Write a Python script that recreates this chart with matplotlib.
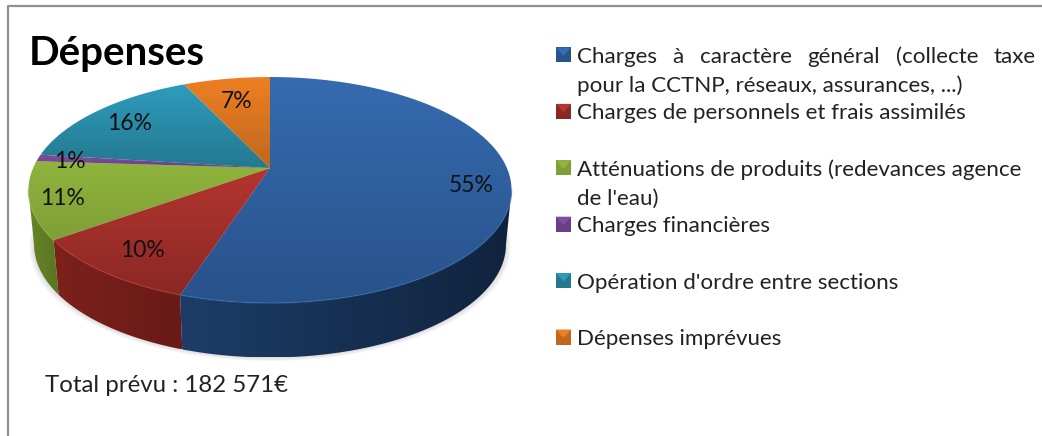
import numpy as np
import matplotlib
matplotlib.use("Agg")
import matplotlib.pyplot as plt
from matplotlib.colors import LinearSegmentedColormap
from matplotlib.patches import Polygon

plt.rcParams['font.family'] = ['Lato', 'DejaVu Sans']

title = "Dépenses"
note = "Total prévu : 182 571€"
values = [55, 10, 11, 1, 16, 7]
pct_labels = ["55%", "10%", "11%", "1%", "16%", "7%"]
legend_lines = [
    ["Charges à caractère général (collecte taxe", "pour la CCTNP, réseaux, assurances, ...)"],
    ["Charges de personnels et frais assimilés"],
    ["Atténuations de produits (redevances agence", "de l'eau)"],
    ["Charges financières"],
    ["Opération d'ordre entre sections"],
    ["Dépenses imprévues"],
]
top_light = ["#356bb0", "#b5352f", "#8fb53c", "#7f4e9f", "#2e9cbd", "#ee7f22"]
top_dark = ["#28528a", "#8a2825", "#7f9e38", "#6a3f88", "#24788f", "#bf681e"]
wall_left = ["#1d3d68", "#7d211c", "#5a7521"]
wall_right = ["#10233d", "#681a17", "#688528"]
label_radius = [0.84, 0.80, 0.87, 0.86, 0.80, 0.74]

# pie geometry in pixels, k is the perspective of the tilted disc
cx, cy = 270, 168
a, b, k = 236.9, 108.7, 0.1947
depth, shrink = 54.5, 0.977


def project(theta, r=1.0):
    u, v = r * np.sin(theta), r * np.cos(theta)
    w = 1 + k * v
    return cx + a * u / w, cy - b * v / w


def lower(x, y):
    return cx + (x - cx) * shrink, y + depth


def gradient(patch, c1, c2, box, horizontal=False):
    cmap = LinearSegmentedColormap.from_list("g", [c1, c2])
    g = np.linspace(0, 1, 256)
    g = g.reshape(1, -1) if horizontal else g.reshape(-1, 1)
    im = ax.imshow(g, cmap=cmap, extent=box, aspect='auto', zorder=patch.get_zorder(),
                   interpolation='bilinear', vmin=0, vmax=1)
    im.set_clip_path(patch)


fig = plt.figure(figsize=(10.42, 4.36), dpi=100)
ax = fig.add_axes([0, 0, 1, 1])
ax.axis('off')

edges = np.cumsum([0] + values) / sum(values) * 2 * np.pi
side = np.arccos(-k)

# frame, only top and left are inside the picture
ax.plot([8, 8, 1042], [436, 6, 6], color="#8f8f8f", lw=1.6, zorder=1)

# soft shadow under the pie
t = np.linspace(0, 2 * np.pi, 200)
sx, sy = lower(*project(t))
for grow in np.linspace(6, 1, 6):
    ax.add_patch(Polygon(np.c_[cx + (sx - cx) * (1 + grow / 300), sy + grow * 0.6],
                         fc="#555555", ec='none', alpha=0.03, zorder=2))

# side wall, only the front part of the arc shows
for i in range(3):
    t0, t1 = max(edges[i], side), min(edges[i + 1], 2 * np.pi - side)
    t = np.linspace(t0, t1, 80)
    x, y = project(t)
    xl, yl = lower(x, y)
    poly = Polygon(np.r_[np.c_[x, y], np.c_[xl, yl][::-1]], fc='none', ec='none', zorder=3)
    ax.add_patch(poly)
    lo, hi = min(x.min(), xl.min()), max(x.max(), xl.max())
    gradient(poly, wall_right[i] if i == 2 else wall_left[i], wall_left[i] if i == 2 else wall_right[i],
             (lo, hi, yl.max(), y.min()), True)

# top face
for i in range(len(values)):
    t = np.linspace(edges[i], edges[i + 1], 120)
    x, y = project(t)
    pts = np.r_[[[cx, cy]], np.c_[x, y]]
    poly = Polygon(pts, fc='none', ec='none', zorder=4)
    ax.add_patch(poly)
    gradient(poly, top_light[i], top_dark[i], (pts[:, 0].min(), pts[:, 0].max(), pts[:, 1].max(), pts[:, 1].min()))

# faint bright line on the front rim
for i in range(3):
    t = np.linspace(max(edges[i], side), min(edges[i + 1], 2 * np.pi - side), 80)
    x, y = project(t)
    ax.plot(x, y, color=top_light[i], lw=1.1, alpha=0.55, zorder=5)

# percent labels
for i, lab in enumerate(pct_labels):
    mid = (edges[i] + edges[i + 1]) / 2
    x, y = project(mid, label_radius[i])
    ax.text(x, y + 2.5, lab, fontsize=16.5, color="#111111", ha='center', va='center', zorder=6)

ax.text(29, 53, title, fontsize=29, fontweight='bold', color="#000000", va='center', zorder=6)
ax.text(45, 385, note, fontsize=17.3, color="#222222", va='center', zorder=6)

# legend: each entry is at a regular step, wrapped lines below it
renderer = fig.canvas.get_renderer()
text_x, right_x = 577, 1036
for i, lines in enumerate(legend_lines):
    y0 = 55 + i * 56.4
    s = 15
    x0, x1 = 556, 556 + s
    y1, y2 = y0 - s / 2, y0 + s / 2
    mx, my = (x0 + x1) / 2, y0 + 1
    ax.add_patch(Polygon([(x0, y1), (x1, y1), (x1, y2), (x0, y2)], fc=top_dark[i], ec='none', zorder=6))
    ax.add_patch(Polygon([(x0, y1), (x1, y1), (mx, my)], fc=top_light[i], ec='none', zorder=6))
    for j, line in enumerate(lines):
        y = y0 + 2 + j * 29
        if i == 0 and j == 0:
            # first line is justified in the original
            words = line.split(" ")
            items = [ax.text(text_x, y, w, fontsize=16.1, color="#222222", va='center', zorder=6) for w in words]
            w = [it.get_window_extent(renderer).width for it in items]
            gap = (right_x - text_x - sum(w)) / (len(words) - 1)
            xp = text_x
            for it, wi in zip(items, w):
                it.set_x(xp)
                xp += wi + gap
        else:
            ax.text(text_x, y, line, fontsize=16.1, color="#222222", va='center', zorder=6)

ax.set_xlim(0, 1042)
ax.set_ylim(436, 0)
fig.savefig("out.png", dpi=100)
